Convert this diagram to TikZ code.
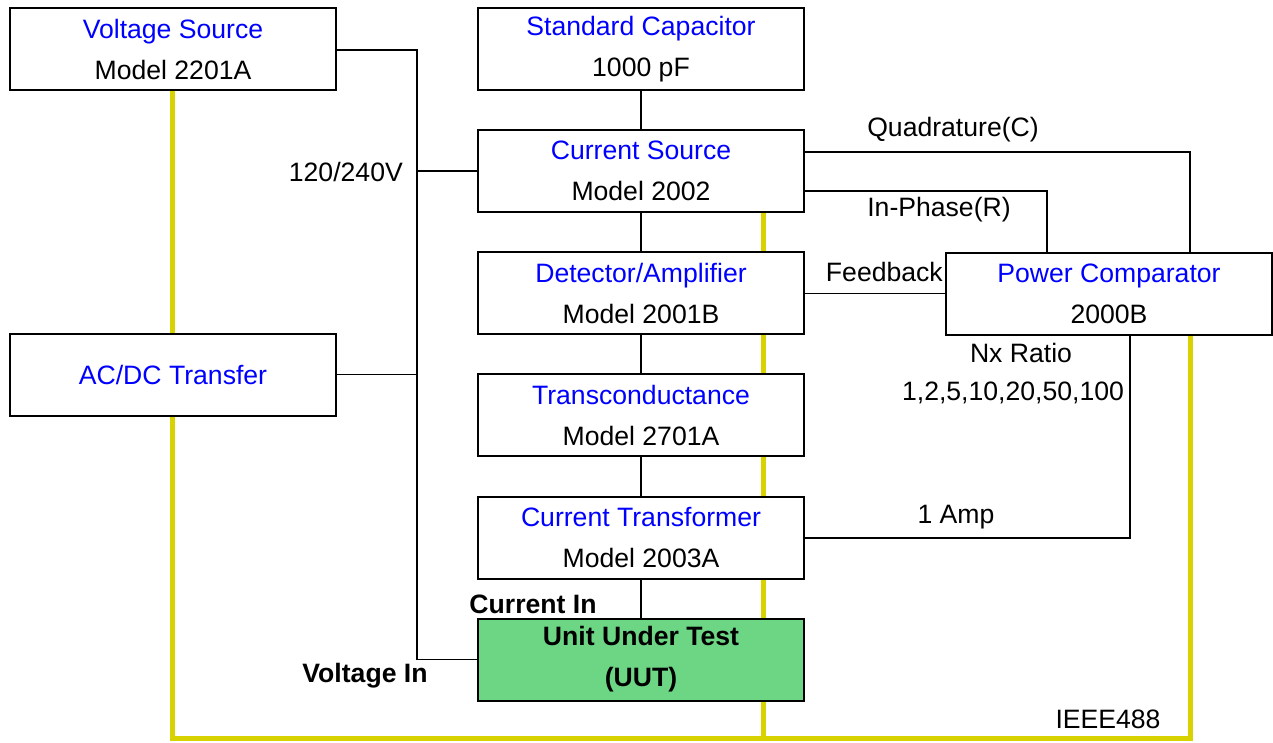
\documentclass[tikz,border=0pt]{standalone}
\usepackage{fontspec}
\setmainfont{Liberation Sans}
\usetikzlibrary{backgrounds}
\definecolor{yel}{RGB}{215,210,0}
\definecolor{uutgreen}{RGB}{108,214,132}
\definecolor{tblue}{RGB}{0,0,255}
\tikzset{
  box/.style={draw=black, line width=2pt, fill=white, minimum width=326pt, minimum height=82pt,
    inner sep=0pt, outer sep=0pt, align=center, font=\fontsize{26.6}{41}\selectfont},
  wire/.style={draw=black, line width=1.5pt},
  ywire/.style={draw=yel, line width=5pt},
  lbl/.style={inner sep=0pt, font=\fontsize{26.6}{31}\selectfont},
  blbl/.style={inner sep=0pt, font=\fontsize{26.6}{31}\selectfont\bfseries},
}
\begin{document}
\begin{tikzpicture}[x=1pt,y=-1pt]
\useasboundingbox (0,0) rectangle (1273,742);
% boxes
\node[box] (vs) at (173,49) {\textcolor{tblue}{Voltage Source}\\Model 2201A};
\node[box] (sc) at (641,49) {\textcolor{tblue}{Standard Capacitor}\\1000 pF};
\node[box] (cs) at (641,171) {\textcolor{tblue}{Current Source}\\Model 2002};
\node[box] (da) at (641,293) {\textcolor{tblue}{Detector/Amplifier}\\Model 2001B};
\node[box] (tc) at (641,415) {\textcolor{tblue}{Transconductance}\\Model 2701A};
\node[box] (ct) at (641,537.5) {\textcolor{tblue}{Current Transformer}\\Model 2003A};
\node[box, fill=uutgreen, font=\fontsize{26.6}{41}\selectfont\bfseries] (uut) at (641,659.5) {Unit Under Test\\(UUT)};
\node[box] (pc) at (1109,293.5) {\textcolor{tblue}{Power Comparator}\\2000B};
\node[box] (ac) at (173,374.5) {\textcolor{tblue}{AC/DC Transfer}};
% junction coordinates
\coordinate (j1) at (417,50);
\coordinate (qc) at (1190,152);
\coordinate (ip) at (1047,191);
\coordinate (amp) at (1130,538);
\coordinate (yb1) at (172,738);
\coordinate (yb2) at (763,738);
\coordinate (yb3) at (1190,738);
% yellow bus behind boxes
\begin{scope}[on background layer]
\draw[ywire] (vs.south -| yb1) -- (ac.north -| yb1);
\draw[ywire] (ac.south -| yb1) -- (yb1) -- (yb3) -- (yb3 |- pc.south);
\draw[ywire] (cs.south -| yb2) -- (yb2);
\end{scope}
% black wires
\draw[wire] (vs.east |- j1) -- (j1) |- (uut.west);
\draw[wire] (cs.west -| j1) -- (cs.west);
\draw[wire] (ac.east) -- (ac.east -| j1);
\draw[wire] (sc.south) -- (cs.north);
\draw[wire] (cs.south) -- (da.north);
\draw[wire] (da.south) -- (tc.north);
\draw[wire] (tc.south) -- (ct.north);
\draw[wire] (ct.south) -- (uut.north);
\draw[wire] (cs.east |- qc) -- (qc) -- (qc |- pc.north);
\draw[wire] (cs.east |- ip) -- (ip) -- (ip |- pc.north);
\draw[wire] (da.east |- pc.west) -- (pc.west);
\draw[wire] (ct.east |- amp) -- (amp) -- (amp |- pc.south);
% labels
\node[lbl, anchor=east] (l240) at (403,172) {120/240V};
\node[lbl] (lq) at (953,130) {Quadrature(C)};
\node[lbl] (lip) at (939,210) {In-Phase(R)};
\node[lbl, anchor=east] (lfb) at (943,272) {Feedback};
\node[lbl] (lnx) at (1021,353) {Nx Ratio};
\node[lbl] (lrat) at (1013,393) {1,2,5,10,20,50,100};
\node[lbl] (l1a) at (956,517) {1 Amp};
\node[lbl] (lieee) at (1108,719) {IEEE488};
\node[blbl] (lci) at (533,604) {Current In};
\node[blbl] (lvi) at (365,676) {Voltage In};
\end{tikzpicture}
\end{document}
